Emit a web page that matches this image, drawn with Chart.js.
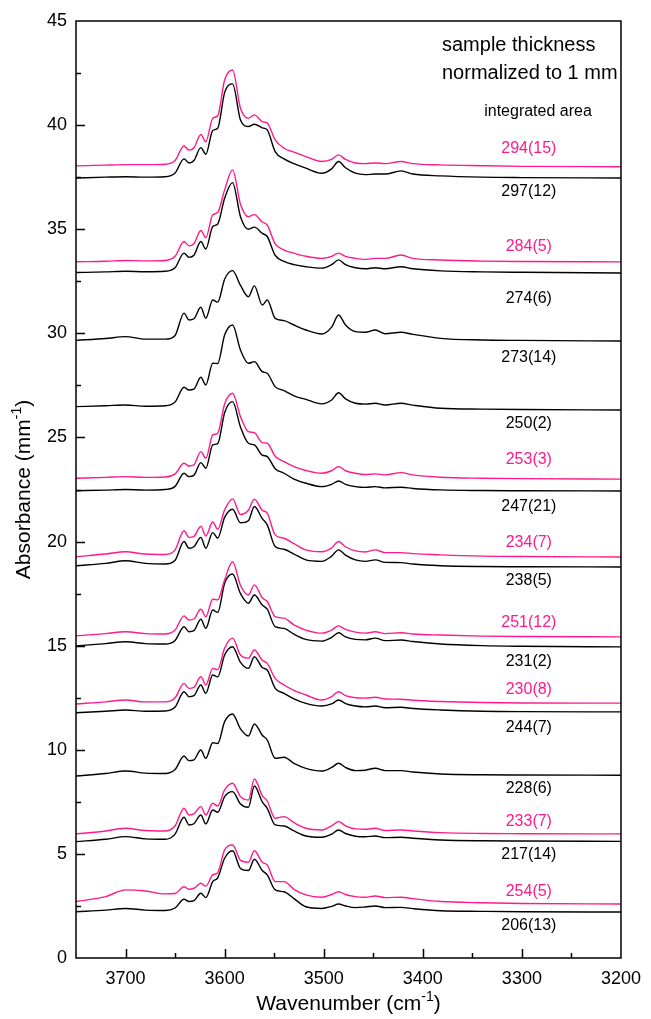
<!DOCTYPE html>
<html lang="en">
<head>
<meta charset="UTF-8">
<title>OH absorbance spectra</title>
<script src="https://cdn.jsdelivr.net/npm/chart.js"></script>
<style>
  html, body { margin: 0; padding: 0; background: #fff; }
  #wrap { width: 651px; height: 1019px; }
</style>
</head>
<body>
<div id="wrap"><canvas id="chartIR" width="651" height="1019"></canvas></div>
<script>
// wavenumber grid (cm-1) shared by every spectrum
const wavenumbers = [3750, 3720, 3700, 3680, 3660, 3650, 3641, 3636, 3631, 3624, 3619, 3612, 3607, 3600, 3592,
  3584, 3576, 3570, 3562, 3557, 3549, 3540, 3530, 3518, 3502, 3492, 3485, 3478, 3468, 3458, 3448, 3438, 3422,
  3410, 3382, 3340, 3300, 3200];

// spectra, top to bottom (absorbance, mm-1, already offset as in the figure)
const spec294 = [38.04, 38.08, 38.1, 38.1, 38.12, 38.3, 39.0, 38.8, 38.9, 39.55, 39.2, 40.33, 40.45, 42.17, 42.65, 40.81, 40.33, 40.49, 40.17, 40.1, 39.29, 38.89, 38.7, 38.49, 38.25, 38.35, 38.57, 38.35, 38.18, 38.15, 38.18, 38.15, 38.25, 38.15, 38.09, 38.05, 38.02, 38.0];
const spec297 = [37.46, 37.5, 37.52, 37.5, 37.52, 37.7, 38.38, 38.18, 38.3, 38.92, 38.6, 39.74, 39.85, 41.56, 41.98, 40.25, 39.93, 40.04, 39.87, 39.77, 38.73, 38.38, 38.15, 37.93, 37.69, 37.9, 38.25, 37.95, 37.69, 37.62, 37.65, 37.65, 37.8, 37.65, 37.56, 37.5, 37.48, 37.46];
const spec284 = [33.44, 33.46, 33.5, 33.48, 33.5, 33.7, 34.41, 34.2, 34.3, 34.94, 34.6, 35.69, 35.8, 36.89, 37.85, 36.2, 35.6, 35.7, 35.35, 35.2, 34.3, 34.0, 33.85, 33.7, 33.6, 33.7, 33.85, 33.7, 33.6, 33.55, 33.6, 33.6, 33.76, 33.6, 33.52, 33.47, 33.45, 33.43];
const spec274 = [32.92, 32.95, 32.98, 32.96, 32.98, 33.15, 33.85, 33.65, 33.75, 34.41, 34.05, 35.13, 35.25, 36.49, 37.24, 35.6, 35.0, 35.1, 34.8, 34.65, 33.75, 33.45, 33.3, 33.2, 33.13, 33.3, 33.53, 33.3, 33.15, 33.1, 33.15, 33.1, 33.2, 33.1, 33.0, 32.95, 32.93, 32.9];
const spec273 = [29.66, 29.75, 29.84, 29.72, 29.72, 29.9, 30.97, 30.64, 30.7, 31.25, 30.72, 31.6, 31.5, 32.6, 33.01, 32.3, 31.76, 32.28, 31.36, 31.6, 30.72, 30.61, 30.4, 30.16, 29.97, 30.3, 30.88, 30.4, 30.08, 30.05, 30.16, 29.98, 30.05, 29.95, 29.76, 29.68, 29.66, 29.63];
const spec250 = [26.48, 26.52, 26.56, 26.5, 26.52, 26.7, 27.41, 27.28, 27.32, 27.89, 27.52, 28.56, 28.55, 29.92, 30.4, 29.2, 28.56, 28.64, 28.16, 28.08, 27.44, 27.25, 27.0, 26.83, 26.61, 26.8, 27.15, 26.85, 26.64, 26.6, 26.64, 26.56, 26.64, 26.55, 26.4, 26.36, 26.34, 26.32];
const spec253 = [23.04, 23.08, 23.12, 23.08, 23.1, 23.25, 23.76, 23.63, 23.68, 24.32, 24.0, 25.12, 25.2, 26.61, 27.12, 26.0, 25.28, 25.23, 24.75, 24.72, 24.1, 23.84, 23.6, 23.41, 23.28, 23.4, 23.6, 23.4, 23.28, 23.22, 23.25, 23.2, 23.31, 23.2, 23.09, 23.04, 23.02, 23.0];
const spec247 = [22.44, 22.47, 22.5, 22.47, 22.5, 22.65, 23.28, 23.12, 23.18, 23.79, 23.52, 24.64, 24.7, 26.19, 26.72, 25.5, 24.72, 24.64, 24.15, 24.08, 23.5, 23.28, 23.0, 22.8, 22.64, 22.75, 22.91, 22.75, 22.64, 22.6, 22.64, 22.58, 22.61, 22.55, 22.48, 22.45, 22.44, 22.43];
const spec234 = [19.27, 19.4, 19.51, 19.4, 19.38, 19.6, 20.52, 20.2, 20.25, 20.72, 20.27, 20.94, 20.59, 21.52, 22.05, 21.3, 21.5, 22.03, 21.5, 21.36, 20.32, 20.16, 19.9, 19.6, 19.51, 19.7, 20.0, 19.75, 19.55, 19.5, 19.6, 19.47, 19.47, 19.42, 19.36, 19.3, 19.28, 19.26];
const spec238 = [18.84, 18.95, 19.08, 18.95, 18.92, 19.1, 20.0, 19.68, 19.75, 20.2, 19.68, 20.43, 20.16, 21.16, 21.55, 20.9, 21.0, 21.68, 21.1, 20.8, 19.76, 19.63, 19.4, 19.12, 19.05, 19.3, 19.6, 19.35, 19.12, 19.05, 19.12, 19.0, 18.99, 18.92, 18.84, 18.8, 18.79, 18.78];
const spec251 = [15.47, 15.58, 15.67, 15.58, 15.56, 15.75, 16.43, 16.23, 16.28, 16.75, 16.39, 17.23, 17.2, 18.16, 19.03, 17.9, 17.43, 17.92, 17.3, 17.12, 16.39, 16.32, 16.0, 15.75, 15.6, 15.75, 15.95, 15.78, 15.65, 15.6, 15.67, 15.58, 15.62, 15.56, 15.51, 15.46, 15.44, 15.42];
const spec231 = [14.99, 15.1, 15.19, 15.1, 15.08, 15.25, 15.91, 15.67, 15.72, 16.27, 15.83, 16.71, 16.6, 18.0, 18.44, 17.5, 17.04, 17.43, 16.95, 16.75, 15.91, 15.83, 15.55, 15.3, 15.22, 15.4, 15.62, 15.42, 15.3, 15.28, 15.36, 15.24, 15.27, 15.2, 15.08, 15.0, 14.97, 14.94];
const spec230 = [12.2, 12.3, 12.39, 12.3, 12.3, 12.5, 13.19, 12.95, 13.0, 13.51, 13.11, 13.91, 13.85, 14.88, 15.36, 14.55, 14.4, 14.79, 14.3, 14.15, 13.43, 13.11, 12.85, 12.63, 12.39, 12.55, 12.79, 12.6, 12.5, 12.48, 12.52, 12.44, 12.43, 12.38, 12.32, 12.27, 12.25, 12.24];
const spec244 = [11.78, 11.85, 11.91, 11.85, 11.86, 12.05, 12.79, 12.55, 12.6, 13.11, 12.71, 13.59, 13.5, 14.55, 14.95, 14.2, 13.91, 14.47, 13.95, 13.83, 12.95, 12.71, 12.45, 12.23, 12.1, 12.2, 12.39, 12.22, 12.1, 12.06, 12.1, 12.02, 12.04, 11.98, 11.91, 11.85, 11.83, 11.82];
const spec228 = [8.74, 8.86, 8.98, 8.88, 8.86, 9.05, 9.7, 9.48, 9.52, 9.99, 9.59, 10.34, 10.3, 11.35, 11.72, 11.0, 10.66, 11.24, 10.7, 10.47, 9.59, 9.64, 9.35, 9.11, 8.98, 9.15, 9.35, 9.15, 9.0, 9.02, 9.11, 9.0, 9.0, 8.93, 8.84, 8.8, 8.79, 8.78];
const spec233 = [5.96, 6.1, 6.23, 6.12, 6.1, 6.35, 7.19, 6.87, 6.92, 7.27, 6.87, 7.43, 7.3, 8.07, 8.39, 7.75, 7.59, 8.6, 7.8, 7.54, 6.71, 6.79, 6.5, 6.23, 6.15, 6.35, 6.55, 6.35, 6.2, 6.18, 6.23, 6.12, 6.15, 6.1, 6.02, 5.98, 5.97, 5.96];
const spec217 = [5.59, 5.7, 5.83, 5.72, 5.7, 5.95, 6.76, 6.39, 6.45, 6.87, 6.44, 7.11, 7.0, 7.75, 7.99, 7.4, 7.24, 8.26, 7.5, 7.19, 6.39, 6.34, 6.1, 5.86, 5.8, 5.95, 6.15, 5.98, 5.85, 5.82, 5.86, 5.78, 5.8, 5.75, 5.67, 5.63, 5.62, 5.6];
const spec254 = [2.71, 2.95, 3.27, 3.22, 3.08, 3.1, 3.42, 3.3, 3.35, 3.59, 3.45, 3.99, 4.1, 5.19, 5.43, 4.7, 4.6, 5.15, 4.6, 4.47, 3.67, 3.67, 3.3, 3.03, 2.92, 3.05, 3.18, 3.05, 2.95, 2.92, 2.98, 2.9, 2.92, 2.85, 2.71, 2.65, 2.62, 2.59];
const spec206 = [2.22, 2.3, 2.38, 2.3, 2.28, 2.4, 2.82, 2.71, 2.75, 3.11, 2.9, 3.67, 3.85, 4.79, 5.15, 4.3, 4.2, 4.74, 4.2, 3.99, 3.27, 3.18, 2.85, 2.46, 2.38, 2.48, 2.59, 2.5, 2.42, 2.45, 2.5, 2.42, 2.43, 2.37, 2.27, 2.24, 2.22, 2.21];

const spectra = [spec294, spec297, spec284, spec274, spec273, spec250, spec253, spec247, spec234, spec238,
  spec251, spec231, spec230, spec244, spec228, spec233, spec217, spec254, spec206];

// integrated area labels, one per spectrum
const areaLabels = ['294(15)', '297(12)', '284(5)', '274(6)', '273(14)', '250(2)', '253(3)', '247(21)', '234(7)', '238(5)',
  '251(12)', '231(2)', '230(8)', '244(7)', '228(6)', '233(7)', '217(14)', '254(5)', '206(13)'];
const areaLabelY = [38.86, 36.79, 34.15, 31.65, 28.82, 25.65, 23.92, 21.66, 19.93, 18.11,
  16.09, 14.22, 12.87, 11.05, 8.12, 6.53, 4.99, 3.17, 1.54];
const areaLabelX = 3293;
const isPink = [1, 0, 1, 0, 0, 0, 1, 0, 1, 0, 1, 0, 1, 0, 0, 1, 0, 1, 0];

// tick labels
const xTickValues = [3700, 3600, 3500, 3400, 3300, 3200];
const yTickValues = [0, 5, 10, 15, 20, 25, 30, 35, 40, 45];

const PINK = '#ff1a8c';
const BLACK = '#000000';
const FONT = '"Liberation Sans", Arial, sans-serif';

const datasets = spectra.map((s, i) => ({
  label: areaLabels[i],
  data: s.map((v, k) => ({x: wavenumbers[k], y: v})),
  borderColor: isPink[i] ? PINK : BLACK,
  borderWidth: 1.4,
  pointRadius: 0,
  fill: false,
  cubicInterpolationMode: 'monotone'
}));

const decorations = {
  id: 'decorations',
  afterDraw(chart) {
    const {ctx, chartArea: a, scales: {x, y}} = chart;
    ctx.save();
    // frame
    ctx.strokeStyle = '#000';
    ctx.lineWidth = 1.5;
    ctx.strokeRect(a.left, a.top, a.right - a.left, a.bottom - a.top);
    // inward ticks
    ctx.beginPath();
    for (let v = 3250; v < 3750; v += 50) {
      const px = Math.round(x.getPixelForValue(v)) + 0.5;
      const len = v % 100 === 0 ? 9 : 5;
      ctx.moveTo(px, a.bottom);
      ctx.lineTo(px, a.bottom - len);
    }
    for (let v = 2.5; v < 45; v += 2.5) {
      const py = Math.round(y.getPixelForValue(v)) + 0.5;
      const len = v % 5 === 0 ? 9 : 5;
      ctx.moveTo(a.left, py);
      ctx.lineTo(a.left + len, py);
    }
    ctx.stroke();

    // area labels
    ctx.textAlign = 'center';
    ctx.textBaseline = 'middle';
    ctx.font = '16px ' + FONT;
    areaLabels.forEach((t, i) => {
      ctx.fillStyle = isPink[i] ? PINK : BLACK;
      ctx.fillText(t, x.getPixelForValue(areaLabelX), y.getPixelForValue(areaLabelY[i]));
    });
    ctx.fillStyle = BLACK;
    ctx.fillText('integrated area', 538, 112);

    ctx.textAlign = 'left';
    ctx.font = '20px ' + FONT;
    ctx.fillText('sample thickness', 442, 45);
    ctx.fillText('normalized to 1 mm', 442, 73);

    // axis titles with superscript
    const drawTitle = (main, sup, tail, cx, cy) => {
      ctx.font = '21px ' + FONT;
      const w1 = ctx.measureText(main).width;
      const w3 = ctx.measureText(tail).width;
      ctx.font = '14px ' + FONT;
      const w2 = ctx.measureText(sup).width;
      let sx = cx - (w1 + w2 + w3) / 2;
      ctx.textAlign = 'left';
      ctx.textBaseline = 'alphabetic';
      ctx.font = '21px ' + FONT;
      ctx.fillText(main, sx, cy);
      ctx.font = '14px ' + FONT;
      ctx.fillText(sup, sx + w1, cy - 9);
      ctx.font = '21px ' + FONT;
      ctx.fillText(tail, sx + w1 + w2, cy);
    };
    drawTitle('Wavenumber (cm', '-1', ')', (a.left + a.right) / 2, 1010);
    ctx.translate(30, (a.top + a.bottom) / 2);
    ctx.rotate(-Math.PI / 2);
    drawTitle('Absorbance (mm', '-1', ')', 0, 0);
    ctx.restore();
  }
};

new Chart(document.getElementById('chartIR'), {
  type: 'line',
  data: {datasets: datasets},
  options: {
    responsive: false,
    devicePixelRatio: 1,
    animation: false,
    layout: {padding: {top: 21, right: 22, left: 0, bottom: 0}},
    plugins: {legend: {display: false}, tooltip: {enabled: false}},
    scales: {
      x: {
        type: 'linear',
        reverse: true,
        min: 3200,
        max: 3750,
        grid: {display: false, drawTicks: false},
        border: {display: false},
        ticks: {color: '#000', padding: 10, maxRotation: 0, autoSkip: false,
          font: {family: FONT, size: 18}, callback: v => String(v)},
        afterBuildTicks: s => { s.ticks = xTickValues.map(v => ({value: v})); },
        afterFit: s => { s.height = 61; }
      },
      y: {
        type: 'linear',
        min: 0,
        max: 45,
        grid: {display: false, drawTicks: false},
        border: {display: false},
        ticks: {color: '#000', padding: 9, autoSkip: false,
          font: {family: FONT, size: 18}, callback: v => String(v)},
        afterBuildTicks: s => { s.ticks = yTickValues.map(v => ({value: v})); },
        afterFit: s => { s.width = 76; }
      }
    }
  },
  plugins: [decorations]
});
</script>
</body>
</html>
